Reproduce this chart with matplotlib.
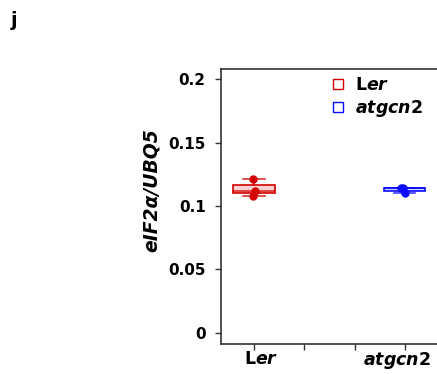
import numpy as np
import matplotlib
matplotlib.use('Agg')
import matplotlib.pyplot as plt

# data
groups = ['Ler', 'atgcn2']
ler_values = [0.121, 0.112, 0.108]
atgcn2_values = [0.1145, 0.114, 0.110]
ler_jitter = [-0.01, 0.03, -0.01]
atgcn2_jitter = [-0.07, -0.04, 0.01]
positions = [1, 4]
label_positions = [1.14, 3.84]
colors = ['#d40000', '#0a0aff']
yticks = [0, 0.05, 0.1, 0.15, 0.2]
ytick_labels = ['0', '0.05', '0.1', '0.15', '0.2']

plt.rcParams['font.family'] = ['DejaVu Sans']
plt.rcParams['mathtext.fontset'] = 'custom'
plt.rcParams['mathtext.it'] = 'DejaVu Sans:italic:bold'
plt.rcParams['mathtext.rm'] = 'DejaVu Sans:bold'
plt.rcParams['mathtext.bf'] = 'DejaVu Sans:bold'

fig = plt.figure(figsize=(4.3701, 3.7401), dpi=100)
# the plot panel runs off the right edge of the picture, so it ends at the figure edge
ax = fig.add_axes([221 / 437, 1 - 344 / 374, (437 - 221) / 437, (344 - 69) / 374])

for vals, jit, pos, col in zip([ler_values, atgcn2_values], [ler_jitter, atgcn2_jitter], positions, colors):
    bp = ax.boxplot([vals], positions=[pos], widths=0.82, patch_artist=True, whis=(0, 100),
                    showfliers=False, manage_ticks=False)
    for b in bp['boxes']:
        b.set_facecolor(matplotlib.colors.to_rgba(col, 0.18))
        b.set_edgecolor(col)
        b.set_linewidth(1.2)
    for key in ['medians', 'whiskers', 'caps']:
        for ln in bp[key]:
            ln.set_color(col)
            ln.set_linewidth(1.2)
            ln.set_alpha(0.8)
    for c in bp['caps']:
        mid = np.mean(c.get_xdata())
        c.set_xdata([mid - 0.21, mid + 0.21])
    ax.plot(np.array(jit) + pos, vals, 'o', color=col, markersize=5, zorder=5)

ax.set_xlim(0.344, 4.64)
ax.set_ylim(-0.0087, 0.2079)
ax.set_xticks([1, 2, 3, 4])
ax.set_xticklabels([])
# category labels sit slightly off the tick marks in the reference
ax.set_xticks(label_positions, minor=True)
ax.set_xticklabels(['L$\\mathit{er}$', '$\\mathit{atgcn2}$'], minor=True, fontsize=12.5, fontweight='bold')
ax.tick_params(axis='x', which='minor', length=0, pad=4)
ax.set_yticks(yticks)
ax.set_yticklabels(ytick_labels, fontsize=11, fontweight='bold')
ax.tick_params(axis='both', which='major', length=4, width=1, color='#333333')
ax.tick_params(axis='y', pad=7)
for side in ['left', 'bottom', 'top']:
    ax.spines[side].set_color('#333333')
    ax.spines[side].set_linewidth(1.2)
ax.spines['right'].set_visible(False)

ax.set_ylabel('eIF2α/UBQ5', fontsize=13.5, fontweight='bold', fontstyle='italic')
ax.yaxis.set_label_coords(-0.28, 0.56)

# legend
handles = [plt.Line2D([], [], marker='s', linestyle='none', markersize=6.5, markerfacecolor='white',
                      markeredgecolor=c, markeredgewidth=1.0) for c in colors]
ax.legend(handles, ['L$\\mathit{er}$', '$\\mathit{atgcn2}$'], loc='upper left',
          bbox_to_anchor=(0.437, 1.03), frameon=False, handlelength=0.8, handletextpad=0.6,
          labelspacing=0.2, prop={'size': 12.5, 'weight': 'bold'})

fig.text(11 / 437, 1 - 20 / 374, 'j', fontsize=14, fontweight='bold', va='center')

fig.savefig('out.png', dpi=100)
